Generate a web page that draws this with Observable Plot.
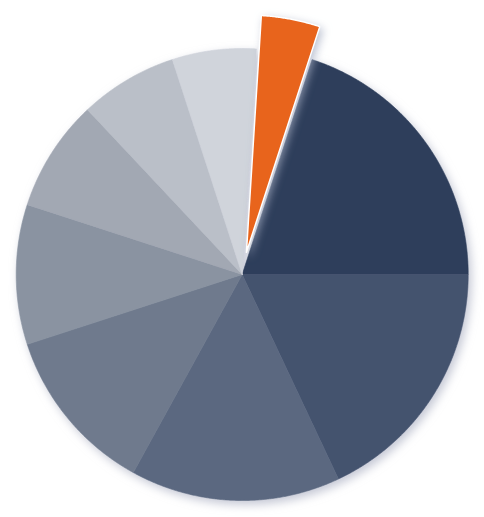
<!DOCTYPE html>
<html>
<head>
<meta charset="utf-8">
<script src="https://cdn.jsdelivr.net/npm/d3@7"></script>
<script src="https://cdn.jsdelivr.net/npm/@observablehq/plot@0.6"></script>
<style>
  html, body { margin: 0; padding: 0; background: #ffffff; }
  #chart { width: 484px; height: 517px; }
</style>
</head>
<body>
<div id="chart"></div>
<script>
// Slice data (clockwise, starting at the dark slice)
const categories = ["A", "B", "C", "D", "E", "F", "G", "H", "I"];
const values = [20, 18, 15, 12, 10, 8, 7, 6, 4];
const colors = ["#2e3e5b", "#44536e", "#5b6880", "#6f7a8d", "#8a93a1", "#a2a8b3", "#babfc8", "#d0d4db", "#e8641c"];
const highlighted = "I"; // exploded slice
const startAngleDeg = 18;
const explodeOffset = 0.1;
const explodeRadius = 1.05;

const total = d3.sum(values);
const startA = startAngleDeg * Math.PI / 180;
let acc = 0;
const pts = [];
categories.forEach((c, i) => {
  const a0 = startA + (acc / total) * 2 * Math.PI;
  acc += values[i];
  const a1 = startA + (acc / total) * 2 * Math.PI;
  const isHi = c === highlighted;
  const mid = (a0 + a1) / 2;
  const ox = isHi ? explodeOffset * Math.sin(mid) : 0;
  const oy = isHi ? explodeOffset * Math.cos(mid) : 0;
  const r = isHi ? explodeRadius : 1;
  pts.push({cat: c, x: ox, y: oy, hi: isHi});
  const n = Math.max(2, Math.ceil((a1 - a0) / 0.005));
  for (let k = 0; k <= n; k++) {
    const a = a0 + (a1 - a0) * k / n;
    pts.push({cat: c, x: ox + r * Math.sin(a), y: oy + r * Math.cos(a), hi: isHi});
  }
  pts.push({cat: c, x: ox, y: oy, hi: isHi});
});

const pxPerUnit = 226;
const cx = 241.7, cy = 274, W = 484, H = 517;

const plot = Plot.plot({
  width: W,
  height: H,
  margin: 0,
  x: {domain: [-cx / pxPerUnit, (W - cx) / pxPerUnit], axis: null},
  y: {domain: [-(H - cy) / pxPerUnit, cy / pxPerUnit], axis: null},
  color: {domain: categories, range: colors},
  marks: [
    Plot.line(pts.filter(d => !d.hi), {x: "x", y: "y", z: "cat", fill: "cat", stroke: "cat", strokeWidth: 0.6, curve: "linear"}),
    Plot.line(pts.filter(d => d.hi), {x: "x", y: "y", z: "cat", fill: "cat", stroke: "white", strokeWidth: 1.5, strokeLinejoin: "miter", curve: "linear"})
  ]
});

const groups = d3.select(plot).selectAll("g[aria-label='line']").nodes();
if (groups[0]) groups[0].style.filter = "drop-shadow(3px 4px 5px rgba(150,155,178,0.55))";
if (groups[1]) groups[1].style.filter = "drop-shadow(3px 3px 4px rgba(170,178,198,0.75))";

document.getElementById("chart").appendChild(plot);
</script>
</body>
</html>
